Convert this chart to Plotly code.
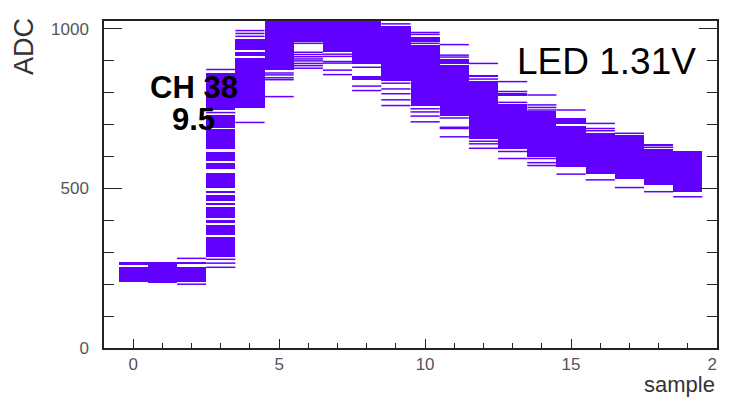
import plotly.graph_objects as go

# ---- data ----
samples = list(range(20))

# dense bands of overlapping event lines: (low ADC, high ADC) per sample
band_low = [
    [260, 208],
    [203],
    [262, 208],
    [746, 691, 623, 587, 560, 501, 487, 462, 448, 407, 393, 354, 286],
    [934, 915, 752],
    [870],
    [958],
    [928],
    [890, 840],
    [837],
    [960, 760],
    [890, 727],
    [848, 655],
    [790, 623],
    [600],
    [702, 566],
    [545],
    [529],
    [633, 511],
    [490],
]
band_high = [
    [270, 253],
    [270],
    [270, 255],
    [863, 730, 687, 613, 579, 548, 493, 480, 455, 443, 401, 386, 347],
    [969, 929, 910],
    [1030],
    [1030],
    [1030],
    [1030, 852],
    [1008],
    [975, 950],
    [906, 886],
    [856, 838],
    [798, 765],
    [742],
    [720, 696],
    [673],
    [668],
    [641, 624],
    [618],
]
# isolated single event lines per sample
single_adc = [
    [],
    [],
    [281, 200],
    [873, 738, 278, 266, 253],
    [995, 986, 977, 707],
    [862, 856, 847, 841, 788],
    [955, 927, 920, 913, 906, 900, 892, 885, 877],
    [921, 914, 898, 893, 871, 857],
    [880, 821, 807],
    [1016, 830, 812, 797, 778, 760],
    [989, 983, 955, 750, 740, 727, 709],
    [951, 918, 912, 721, 692, 688, 662],
    [892, 843, 648, 640, 626],
    [835, 804, 770, 616, 594],
    [793, 762, 754, 746, 594, 581, 572],
    [746, 545],
    [704, 688, 681, 527],
    [673, 503],
    [629, 490],
    [474],
]

x_ticks = [0, 5, 10, 15, 20]
x_ticktext = ["0", "5", "10", "15", "2\u00a0\u00a0"]
y_ticks = [0, 500, 1000]
y_ticktext = ["0", "500", "1000"]

PURPLE = "#6200ff"
AX = "#222222"
FONT = "Liberation Sans"

# ---- build marks ----
bx, bbase, bh = [], [], []
for s in samples:
    for lo, hi in zip(band_low[s], band_high[s]):
        bx.append(s)
        bbase.append(lo)
        bh.append(hi - lo)

lx, ly = [], []
for s in samples:
    for v in single_adc[s]:
        lx += [s - 0.5, s + 0.5, None]
        ly += [v, v, None]

fig = go.Figure()
fig.add_trace(go.Bar(x=bx, y=bh, base=bbase, width=1.0,
                     marker=dict(color=PURPLE, line=dict(width=0)),
                     showlegend=False, hoverinfo="skip"))
fig.add_trace(go.Scatter(x=lx, y=ly, mode="lines",
                         line=dict(color=PURPLE, width=1.5),
                         showlegend=False, hoverinfo="skip"))

# page body has an 8 px margin; figure is sized/placed to compensate
OFF = 8
W, H = 731 - OFF, 405 - OFF
L, T = 104 - OFF, 21 - OFF
R = W - (717 - OFF)
B = H - (348 - OFF)
pw, ph = W - L - R, H - T - B


def px(xw):
    return (xw - OFF - L) / pw


def py(yw):
    return (H - B - (yw - OFF)) / ph


fig.update_layout(
    width=W, height=H,
    margin=dict(l=L, r=R, t=T, b=B, pad=0, autoexpand=False),
    paper_bgcolor="white", plot_bgcolor="white",
    barmode="overlay", bargap=0,
    font=dict(family=FONT, color="#444444"),
    xaxis=dict(range=[-1, 20], tickvals=x_ticks, ticktext=x_ticktext,
               ticks="inside", ticklen=9, tickwidth=1.3, tickcolor=AX,
               minor=dict(dtick=1, tick0=0, ticks="inside", ticklen=5,
                          tickwidth=1.2, tickcolor=AX),
               showline=True, linecolor=AX, linewidth=1.5, mirror=True,
               showgrid=False, zeroline=False, automargin=False,
               tickfont=dict(size=17, color="#555555", family=FONT)),
    yaxis=dict(range=[0, 1025], tickvals=y_ticks, ticktext=y_ticktext,
               ticks="inside", ticklen=18, tickwidth=1.3, tickcolor=AX,
               minor=dict(dtick=100, tick0=0, ticks="inside", ticklen=10,
                          tickwidth=1.2, tickcolor=AX),
               showline=True, linecolor=AX, linewidth=1.5, mirror="allticks",
               showgrid=False, zeroline=False, ticklabelstandoff=10,
               automargin=False,
               tickfont=dict(size=17, color="#555555", family=FONT)),
    annotations=[
        dict(text="ADC", x=px(24), y=py(47), xref="paper", yref="paper",
             showarrow=False, textangle=-90, xanchor="center", yanchor="middle",
             font=dict(size=27, color="#333333", family=FONT)),
        dict(text="sample", x=px(679), y=py(384), xref="paper", yref="paper",
             showarrow=False, xanchor="center", yanchor="middle",
             font=dict(size=22, color="#333333", family=FONT)),
        dict(text="<b>CH 38</b>", x=px(194), y=py(87), xref="paper", yref="paper",
             showarrow=False, xanchor="center", yanchor="middle",
             font=dict(size=31, color="black", family=FONT)),
        dict(text="<b>9.5</b>", x=px(193), y=py(120), xref="paper", yref="paper",
             showarrow=False, xanchor="center", yanchor="middle",
             font=dict(size=31, color="black", family=FONT)),
        dict(text="LED 1.31V", x=px(606), y=py(62), xref="paper", yref="paper",
             showarrow=False, xanchor="center", yanchor="middle",
             font=dict(size=37, color="black", family=FONT)),
    ],
)

fig.write_html("out.html")
